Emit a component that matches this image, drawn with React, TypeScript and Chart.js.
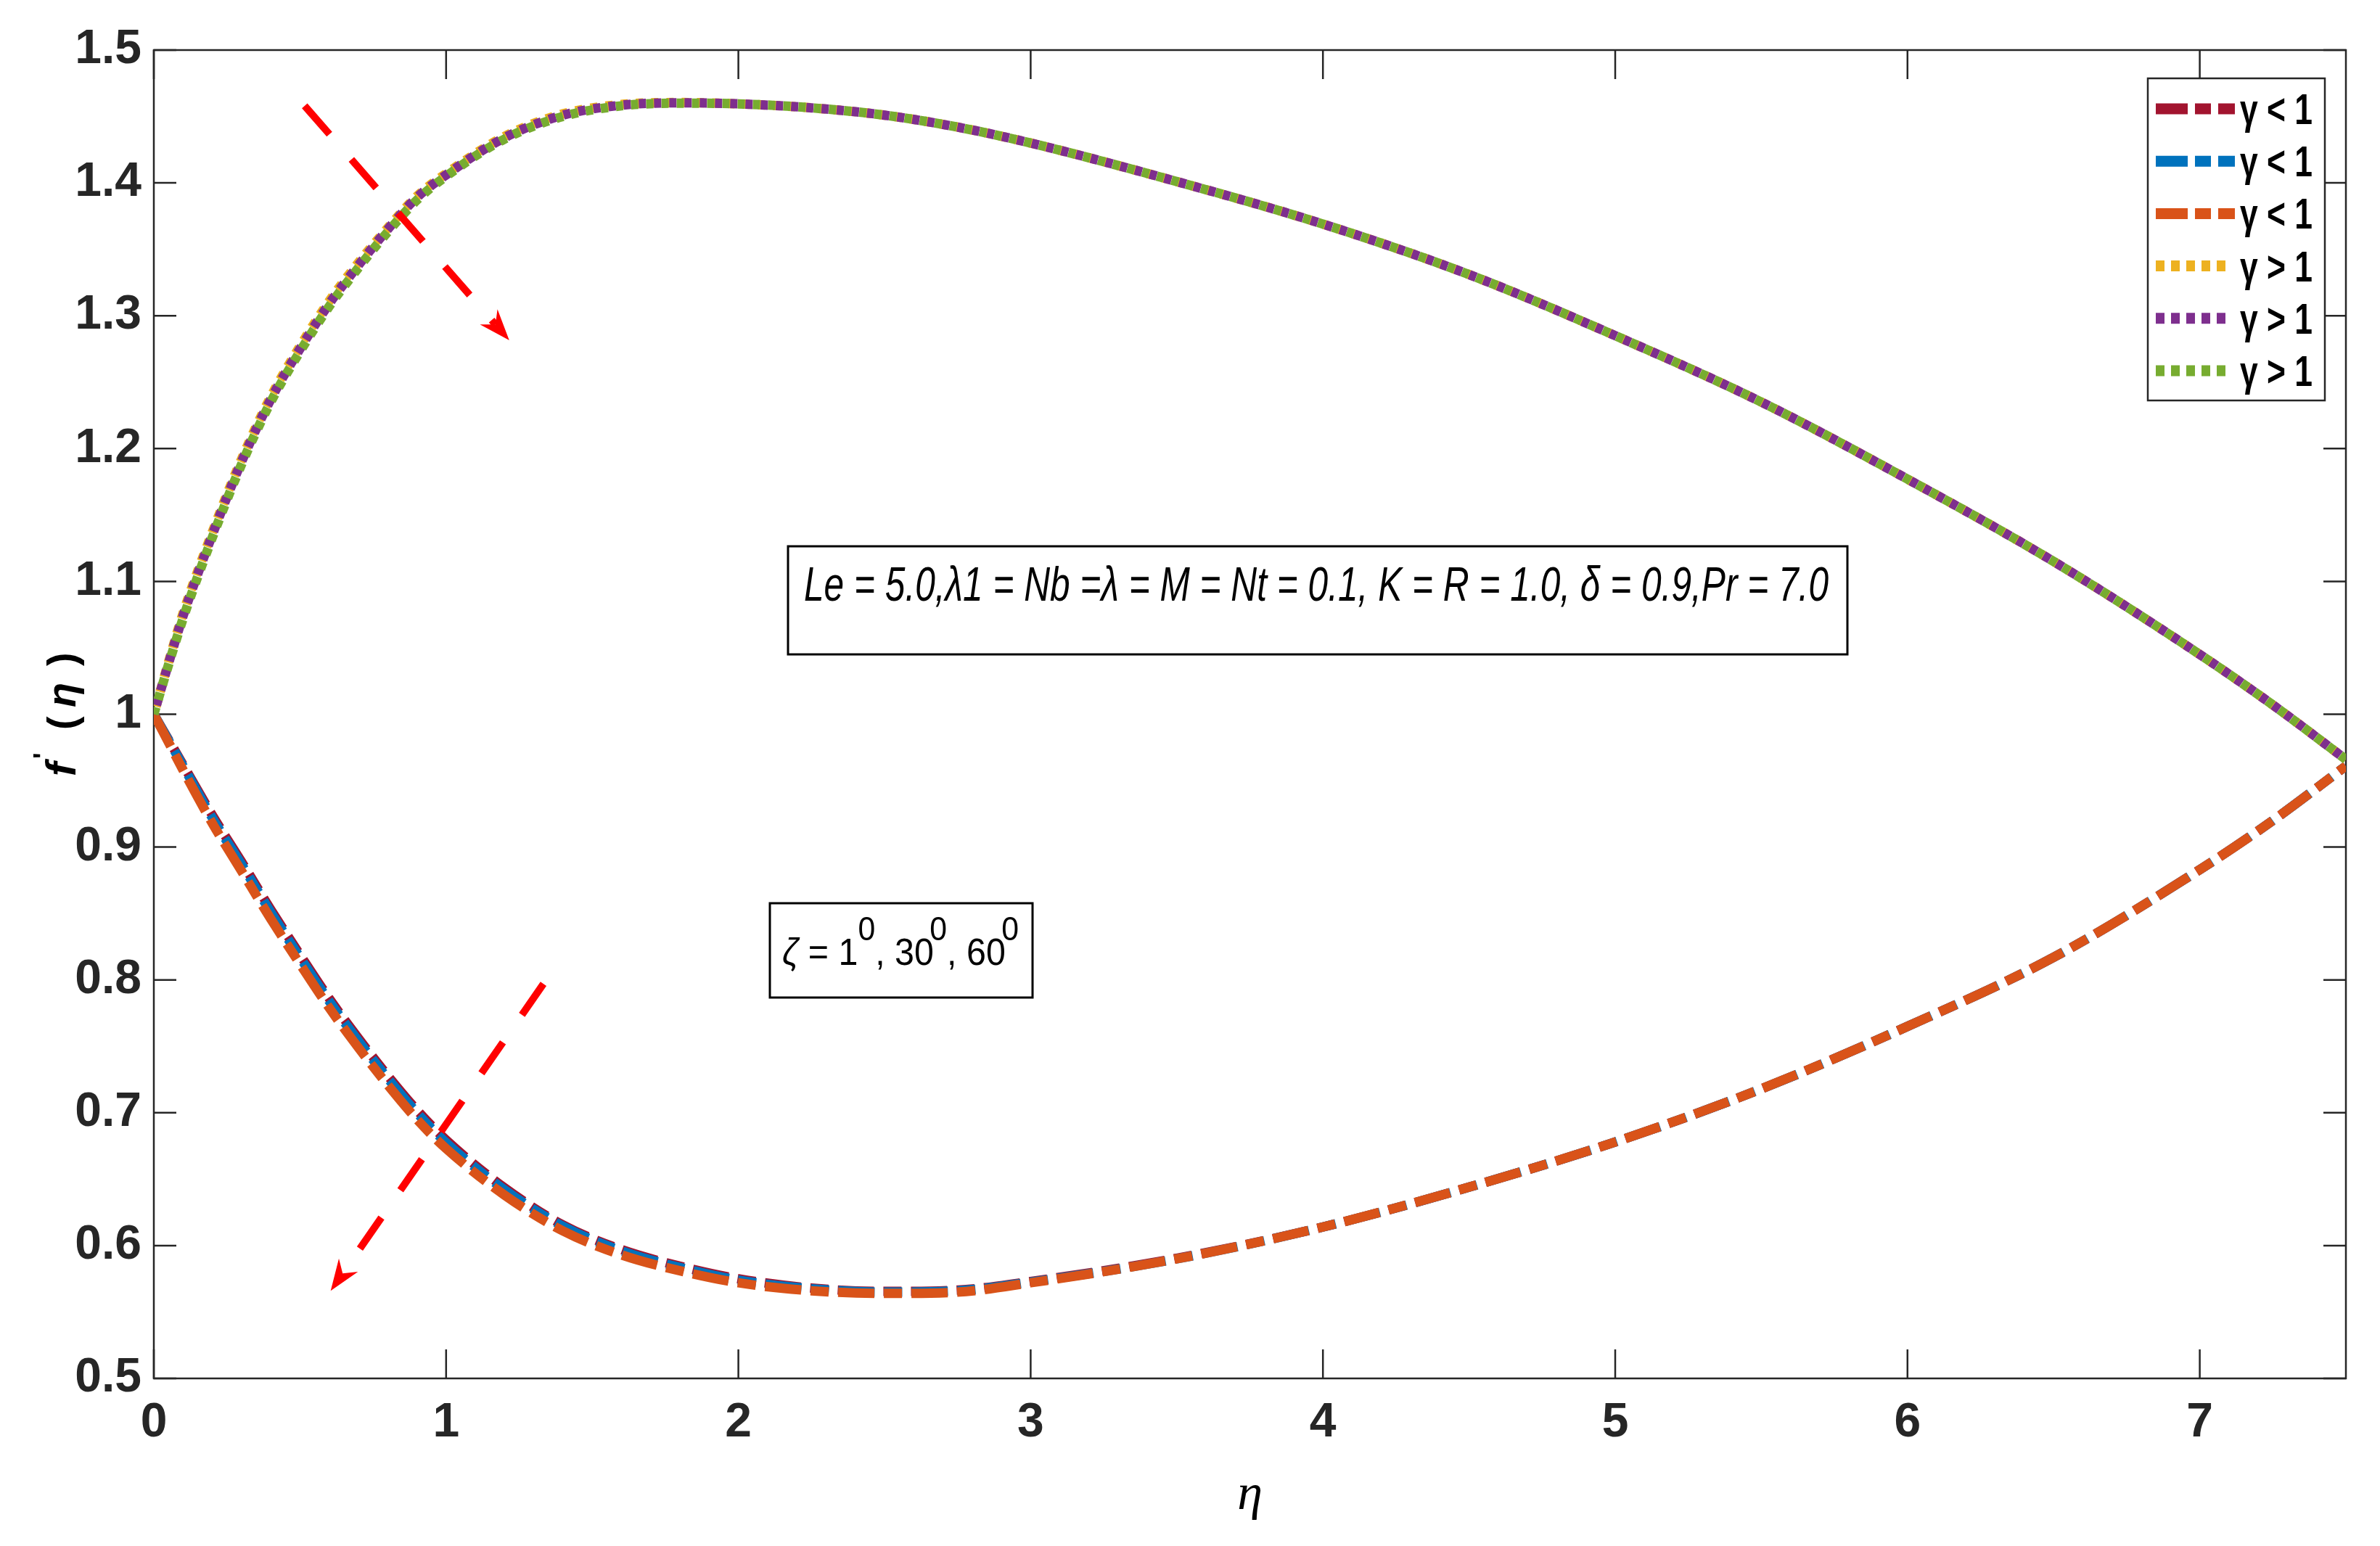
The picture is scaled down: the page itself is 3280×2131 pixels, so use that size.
import React, { useEffect, useRef } from "react";
import { Chart, registerables } from "chart.js";

Chart.register(...registerables);

// ---------------- data ----------------
const etaValues = [0, 0.05, 0.1, 0.2, 0.3, 0.4, 0.5, 0.6, 0.7, 0.8, 0.9, 1.0, 1.2, 1.4, 1.6, 1.8, 2.0, 2.25, 2.5, 2.75, 3.0, 3.5, 4.0, 4.5, 5.0, 5.5, 6.0, 6.5, 7.0, 7.25, 7.5];

// lower branch (gamma < 1, dashed)
const fRed = [1.000, 0.981, 0.962, 0.924, 0.889, 0.853, 0.819, 0.786, 0.756, 0.728, 0.702, 0.6795, 0.6435, 0.6155, 0.597, 0.5845, 0.575, 0.568, 0.5655, 0.5665, 0.573, 0.5905, 0.614, 0.644, 0.678, 0.718, 0.765, 0.817, 0.883, 0.920, 0.961];
const fBlue = [1.000, 0.9805, 0.961, 0.922, 0.887, 0.851, 0.817, 0.784, 0.754, 0.726, 0.700, 0.6775, 0.642, 0.6145, 0.596, 0.5835, 0.574, 0.5675, 0.565, 0.566, 0.5725, 0.590, 0.614, 0.644, 0.678, 0.718, 0.765, 0.817, 0.883, 0.920, 0.961];
const fOrange = [1.000, 0.979, 0.958, 0.918, 0.882, 0.846, 0.812, 0.779, 0.749, 0.721, 0.695, 0.673, 0.638, 0.611, 0.593, 0.581, 0.572, 0.566, 0.564, 0.565, 0.572, 0.590, 0.614, 0.644, 0.678, 0.718, 0.765, 0.817, 0.883, 0.920, 0.961];

// upper branch (gamma > 1, dotted)
const fYellow = [1.000, 1.039, 1.076, 1.137, 1.192, 1.239, 1.277, 1.311, 1.340, 1.366, 1.390, 1.407, 1.435, 1.452, 1.459, 1.4605, 1.4595, 1.4565, 1.451, 1.442, 1.430, 1.401, 1.369, 1.331, 1.285, 1.235, 1.177, 1.115, 1.045, 1.007, 0.966];
const fPurple = [1.000, 1.038, 1.074, 1.135, 1.190, 1.237, 1.275, 1.309, 1.338, 1.365, 1.389, 1.406, 1.434, 1.451, 1.4585, 1.4603, 1.4595, 1.4565, 1.451, 1.442, 1.430, 1.401, 1.369, 1.331, 1.285, 1.235, 1.177, 1.115, 1.045, 1.007, 0.966];
const fGreen = [1.000, 1.037, 1.072, 1.133, 1.188, 1.235, 1.273, 1.307, 1.336, 1.363, 1.387, 1.405, 1.433, 1.450, 1.458, 1.460, 1.4595, 1.4565, 1.451, 1.442, 1.430, 1.401, 1.369, 1.331, 1.285, 1.235, 1.177, 1.115, 1.045, 1.007, 0.966];

const seriesLabels = ["γ < 1", "γ < 1", "γ < 1", "γ > 1", "γ > 1", "γ > 1"];

const xTickValues = [0, 1, 2, 3, 4, 5, 6, 7];
const xTickLabels = ["0", "1", "2", "3", "4", "5", "6", "7"];
const yTickValues = [0.5, 0.6, 0.7, 0.8, 0.9, 1.0, 1.1, 1.2, 1.3, 1.4, 1.5];
const yTickLabels = ["0.5", "0.6", "0.7", "0.8", "0.9", "1", "1.1", "1.2", "1.3", "1.4", "1.5"];

// annotation arrows in data units: [x0, y0, x1(tip), y1(tip)]
const arrowUpper = [0.516, 1.458, 1.216, 1.2815];
const arrowLower = [1.333, 0.797, 0.605, 0.566];

// ---------------- layout / style ----------------
const W = 3280;
const H = 2131;
const PLOT = { left: 212, top: 69, right: 3233, bottom: 1900 };
const AXIS_COLOR = "#262626";
const NARROW = "'Liberation Sans Narrow', 'Arial Narrow', 'Liberation Sans', Arial, sans-serif";
const SERIF = "'Liberation Serif', 'DejaVu Serif', serif";

const COLORS = {
  red: "#A2142F",
  blue: "#0072BD",
  orange: "#D95319",
  yellow: "#EDB120",
  purple: "#7E2F8E",
  green: "#77AC30",
};

const DASHED = [50, 13, 25, 13];
const DOTTED = [10, 11];

type Seg = { t: string; font: string; dy?: number; gap?: number };

function drawSegs(ctx: CanvasRenderingContext2D, segs: Seg[], x: number, y: number, targetW?: number) {
  const widths = segs.map((s) => {
    ctx.font = s.font;
    return ctx.measureText(s.t).width;
  });
  let total = 0;
  widths.forEach((w, i) => (total += w + (segs[i].gap || 0)));
  const sx = targetW ? targetW / total : 1;
  ctx.save();
  ctx.translate(x, y);
  ctx.scale(sx, 1);
  ctx.textAlign = "left";
  ctx.textBaseline = "alphabetic";
  let cx = 0;
  segs.forEach((s, i) => {
    cx += s.gap || 0;
    ctx.font = s.font;
    ctx.fillText(s.t, cx, s.dy || 0);
    cx += widths[i];
  });
  ctx.restore();
}

function drawArrow(ctx: CanvasRenderingContext2D, x0: number, y0: number, x1: number, y1: number) {
  const dx = x1 - x0;
  const dy = y1 - y0;
  const len = Math.hypot(dx, dy);
  const ux = dx / len;
  const uy = dy / len;
  const px = -uy;
  const py = ux;
  const headLen = 43;
  const headHalf = 16;
  const notch = 29;
  ctx.save();
  ctx.strokeStyle = "#FF0000";
  ctx.fillStyle = "#FF0000";
  ctx.lineWidth = 10;
  ctx.lineCap = "butt";
  ctx.setLineDash([52, 46]);
  ctx.beginPath();
  ctx.moveTo(x0, y0);
  ctx.lineTo(x1 - ux * notch, y1 - uy * notch);
  ctx.stroke();
  ctx.setLineDash([]);
  ctx.beginPath();
  ctx.moveTo(x1, y1);
  ctx.lineTo(x1 - ux * headLen + px * headHalf, y1 - uy * headLen + py * headHalf);
  ctx.lineTo(x1 - ux * notch, y1 - uy * notch);
  ctx.lineTo(x1 - ux * headLen - px * headHalf, y1 - uy * headLen - py * headHalf);
  ctx.closePath();
  ctx.fill();
  ctx.restore();
}

const decorPlugin = {
  id: "matlabDecor",
  beforeDatasetsDraw(chart: any) {
    const { ctx, chartArea: a, scales } = chart;
    ctx.save();
    ctx.strokeStyle = AXIS_COLOR;
    ctx.lineWidth = 2.5;
    ctx.setLineDash([]);
    ctx.beginPath();
    for (const v of xTickValues) {
      const px = scales.x.getPixelForValue(v);
      ctx.moveTo(px, a.bottom);
      ctx.lineTo(px, a.bottom - 40);
      ctx.moveTo(px, a.top);
      ctx.lineTo(px, a.top + 40);
    }
    for (const v of yTickValues) {
      const py = scales.y.getPixelForValue(v);
      ctx.moveTo(a.left, py);
      ctx.lineTo(a.left + 31, py);
      ctx.moveTo(a.right, py);
      ctx.lineTo(a.right - 31, py);
    }
    ctx.stroke();
    ctx.strokeRect(a.left, a.top, a.right - a.left, a.bottom - a.top);
    ctx.restore();
  },
  afterDatasetsDraw(chart: any) {
    const { ctx, chartArea: a, scales } = chart;
    const X = (v: number) => scales.x.getPixelForValue(v);
    const Y = (v: number) => scales.y.getPixelForValue(v);

    // arrows
    drawArrow(ctx, X(arrowUpper[0]), Y(arrowUpper[1]), X(arrowUpper[2]), Y(arrowUpper[3]));
    drawArrow(ctx, X(arrowLower[0]), Y(arrowLower[1]), X(arrowLower[2]), Y(arrowLower[3]));

    ctx.save();
    ctx.fillStyle = "#000";
    ctx.strokeStyle = "#000";

    // parameter text box
    ctx.lineWidth = 3;
    ctx.strokeRect(1086, 753, 2546 - 1086, 902 - 753);
    drawSegs(
      ctx,
      [{ t: "Le = 5.0,λ1 = Nb =λ = M = Nt = 0.1, K = R = 1.0, δ = 0.9,Pr = 7.0", font: `italic 66px ${NARROW}` }],
      1108,
      828,
      1412
    );

    // angle text box
    ctx.strokeRect(1061, 1245, 1423 - 1061, 1375 - 1245);
    const f50 = `52px ${NARROW}`;
    const f40 = `46px ${NARROW}`;
    drawSegs(
      ctx,
      [
        { t: "ζ", font: `italic 52px ${NARROW}` },
        { t: " = 1", font: f50 },
        { t: "0", font: f40, dy: -34 },
        { t: ", 30", font: f50 },
        { t: "0", font: f40, dy: -34, gap: -6 },
        { t: ", 60", font: f50 },
        { t: "0", font: f40, dy: -34, gap: -6 },
      ],
      1078,
      1330,
      326
    );

    // legend
    const legL = 2960, legR = 3204, legT = 108, legB = 552;
    ctx.fillStyle = "#fff";
    ctx.fillRect(legL, legT, legR - legL, legB - legT);
    ctx.strokeStyle = AXIS_COLOR;
    ctx.lineWidth = 2.5;
    ctx.strokeRect(legL, legT, legR - legL, legB - legT);
    const ds = chart.data.datasets;
    ds.forEach((d: any, i: number) => {
      const ry = 150 + i * 72.2;
      const dotted = d.borderDash === DOTTED;
      ctx.save();
      ctx.strokeStyle = d.borderColor;
      ctx.lineWidth = 15;
      ctx.lineCap = "butt";
      ctx.setLineDash(dotted ? [12, 9] : [44, 10, 22, 10]);
      ctx.beginPath();
      ctx.moveTo(2971, ry);
      ctx.lineTo(dotted ? 3068 : 3080, ry);
      ctx.stroke();
      ctx.restore();
      ctx.fillStyle = "#000";
      const parts = String(d.label).split(" ");
      drawSegs(
        ctx,
        [
          { t: parts[0], font: `bold 60px ${NARROW}` },
          { t: " " + parts[1] + " ", font: `bold 60px ${NARROW}` },
          { t: parts[2], font: `bold 60px ${NARROW}` },
        ],
        3087,
        ry + 21,
        100
      );
    });

    // y axis title: f' ( η ) rotated
    ctx.fillStyle = "#000";
    ctx.save();
    ctx.translate(104, 1070);
    ctx.rotate(-Math.PI / 2);
    ctx.textAlign = "left";
    ctx.textBaseline = "alphabetic";
    ctx.font = `italic bold 58px ${NARROW}`;
    ctx.fillText("f", 0, 0);
    ctx.font = `bold 36px ${NARROW}`;
    ctx.fillText("'", 24, -32);
    ctx.font = `bold 56px ${NARROW}`;
    ctx.fillText("(", 64, 0);
    ctx.font = `italic bold 56px ${NARROW}`;
    ctx.fillText("η", 95, 0);
    ctx.font = `bold 56px ${NARROW}`;
    ctx.fillText(")", 152, 0);
    ctx.restore();

    // x axis title
    ctx.font = `italic 70px ${SERIF}`;
    ctx.textAlign = "center";
    ctx.textBaseline = "alphabetic";
    ctx.fillText("η", (a.left + a.right) / 2, 2080);
    ctx.restore();
  },
};

function makeSeries(label: string, ys: number[], color: string, dash: number[], offset: number, order: number, width: number) {
  return {
    label,
    data: etaValues.map((x, i) => ({ x, y: ys[i] })),
    borderColor: color,
    backgroundColor: color,
    borderWidth: width,
    borderDash: dash,
    borderDashOffset: offset,
    borderCapStyle: "butt",
    borderJoinStyle: "round",
    pointRadius: 0,
    pointHoverRadius: 0,
    fill: false,
    cubicInterpolationMode: "monotone",
    order,
  };
}

export default function App() {
  const canvasRef = useRef<HTMLCanvasElement | null>(null);

  useEffect(() => {
    document.body.style.margin = "0";
    const canvas = canvasRef.current;
    if (!canvas) return;
    const tickFont = { family: NARROW, size: 66, weight: "bold" as const };
    const chart = new Chart(canvas, {
      type: "line",
      data: {
        datasets: [
          makeSeries(seriesLabels[0], fRed, COLORS.red, DASHED, 8, 6, 13),
          makeSeries(seriesLabels[1], fBlue, COLORS.blue, DASHED, 5, 5, 13),
          makeSeries(seriesLabels[2], fOrange, COLORS.orange, DASHED, 0, 4, 13),
          makeSeries(seriesLabels[3], fYellow, COLORS.yellow, DOTTED, 10, 3, 13),
          makeSeries(seriesLabels[4], fPurple, COLORS.purple, DOTTED, 8, 2, 13),
          makeSeries(seriesLabels[5], fGreen, COLORS.green, DOTTED, 0, 1, 13),
        ] as any,
      },
      options: {
        animation: false,
        responsive: false,
        maintainAspectRatio: false,
        devicePixelRatio: 1,
        layout: { padding: { left: 0, top: PLOT.top, right: W - PLOT.right, bottom: 0 } },
        plugins: {
          legend: { display: false },
          tooltip: { enabled: false },
          title: { display: false },
        },
        scales: {
          x: {
            type: "linear",
            min: 0,
            max: 7.5,
            grid: { display: false, drawTicks: false },
            border: { display: false },
            afterBuildTicks: (s: any) => {
              s.ticks = xTickValues.map((v) => ({ value: v }));
            },
            afterFit: (s: any) => {
              s.height = H - PLOT.bottom;
            },
            ticks: {
              autoSkip: false,
              maxRotation: 0,
              minRotation: 0,
              padding: 22,
              color: AXIS_COLOR,
              font: tickFont,
              callback: (_v: any, i: number) => xTickLabels[i],
            },
          },
          y: {
            type: "linear",
            min: 0.5,
            max: 1.5,
            grid: { display: false, drawTicks: false },
            border: { display: false },
            afterBuildTicks: (s: any) => {
              s.ticks = yTickValues.map((v) => ({ value: v }));
            },
            afterFit: (s: any) => {
              s.width = PLOT.left;
            },
            ticks: {
              autoSkip: false,
              padding: 17,
              color: AXIS_COLOR,
              font: tickFont,
              callback: (_v: any, i: number) => yTickLabels[i],
            },
          },
        },
      } as any,
      plugins: [decorPlugin as any],
    });
    return () => chart.destroy();
  }, []);

  return (
    <canvas
      ref={canvasRef}
      width={W}
      height={H}
      style={{ display: "block", width: W + "px", height: H + "px" }}
    />
  );
}
